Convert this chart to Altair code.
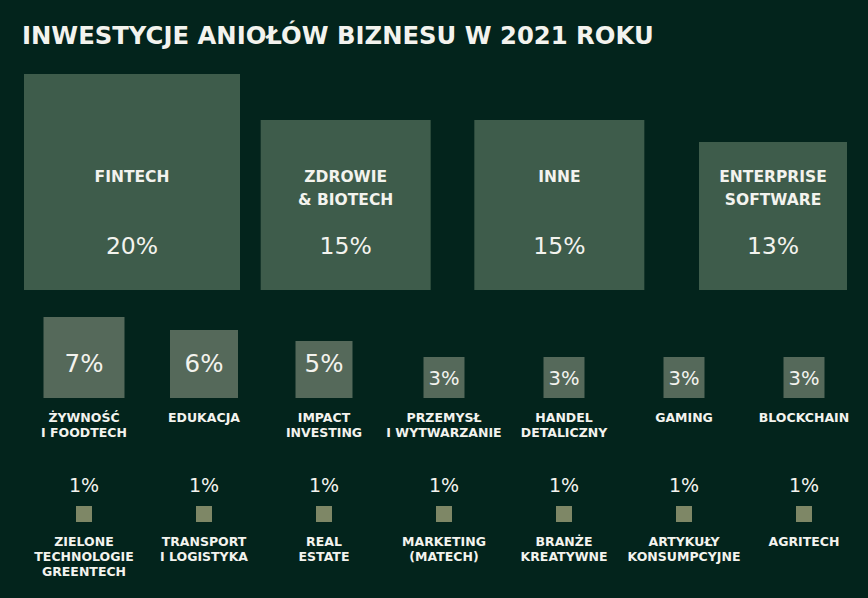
import altair as alt
import pandas as pd

# ---------------- data ----------------
title_text = "INWESTYCJE ANIOŁÓW BIZNESU W 2021 ROKU"

top_labels = [["FINTECH"], ["ZDROWIE", "& BIOTECH"], ["INNE"], ["ENTERPRISE", "SOFTWARE"]]
top_values = [20, 15, 15, 13]

mid_labels = [["ŻYWNOŚĆ", "I FOODTECH"], ["EDUKACJA"], ["IMPACT", "INVESTING"],
              ["PRZEMYSŁ", "I WYTWARZANIE"], ["HANDEL", "DETALICZNY"], ["GAMING"], ["BLOCKCHAIN"]]
mid_values = [7, 6, 5, 3, 3, 3, 3]

low_labels = [["ZIELONE", "TECHNOLOGIE", "GREENTECH"], ["TRANSPORT", "I LOGISTYKA"], ["REAL", "ESTATE"],
              ["MARKETING", "(MATECH)"], ["BRANŻE", "KREATYWNE"], ["ARTYKUŁY", "KONSUMPCYJNE"], ["AGRITECH"]]
low_values = [1, 1, 1, 1, 1, 1, 1]

# ---------------- style ----------------
BG = "#03241c"
ROW_COLORS = ["#3e5c4b", "#55695a", "#7e8766"]
TEXT = "#f3f3ee"
FONT = "DejaVu Sans"
size_domain = [1, 3, 5, 6, 7, 13, 15, 20]
side_px = [16, 41, 57, 68, 81, 148, 170, 216]


def make_rows(labels, values, row):
    return [{"label": l, "value": v, "pct": f"{v}%", "row": row, "col": i}
            for i, (l, v) in enumerate(zip(labels, values))]


top_df = pd.DataFrame(make_rows(top_labels, top_values, 1))
rest_df = pd.DataFrame(make_rows(mid_labels, mid_values, 2) + make_rows(low_labels, low_values, 3))

size_enc = alt.Size("value:Q", legend=None,
                    scale=alt.Scale(domain=size_domain, range=[s * s for s in side_px], zero=False, nice=False))
yoff_enc = alt.YOffset("value:Q",
                       scale=alt.Scale(domain=size_domain, range=[-s / 2 for s in side_px], zero=False, nice=False))
color_enc = alt.Color("row:O", legend=None, scale=alt.Scale(domain=[1, 2, 3], range=ROW_COLORS))

# ---------- top row ----------
xA = alt.X("col:Q", axis=None, scale=alt.Scale(domain=[0, 3], range=[132, 773], zero=False, nice=False))
yA = alt.Y("row:O", axis=None, scale=alt.Scale(type="point", domain=[1], range=[290, 290], padding=0))
baseA = alt.Chart(top_df)

squaresA = baseA.mark_square(filled=True, opacity=1, strokeWidth=0).encode(
    x=xA, y=yA, size=size_enc, yOffset=yoff_enc, color=color_enc)
labelsA = baseA.mark_text(font=FONT, fontSize=15.5, fontWeight="bold", color=TEXT,
                          baseline="alphabetic", dy=-108.5, lineHeight=23).encode(
    x=xA, y=yA, text="label")
pctA = baseA.mark_text(font=FONT, fontSize=23.5, color=TEXT, baseline="alphabetic", dy=-36.5).encode(
    x=xA, y=yA, text="pct:N")
layerA = alt.layer(squaresA, labelsA, pctA)

# ---------- rows 2 and 3 ----------
xB = alt.X("col:Q", axis=None, scale=alt.Scale(domain=[0, 6], range=[84, 804], zero=False, nice=False))
yB = alt.Y("row:O", axis=None, scale=alt.Scale(type="point", domain=[2, 3], range=[398, 522], padding=0))
baseB = alt.Chart(rest_df)

squaresB = baseB.mark_square(filled=True, opacity=1, strokeWidth=0).encode(
    x=xB, y=yB, size=size_enc, yOffset=yoff_enc, color=color_enc)
labelsB = baseB.mark_text(font=FONT, fontSize=12.5, fontWeight="bold", color=TEXT,
                          baseline="alphabetic", dy=23.5, lineHeight=15).encode(
    x=xB, y=yB, text="label")
pctBig = baseB.transform_filter("datum.row == 2 && datum.value >= 5").mark_text(
    font=FONT, fontSize=24.5, color=TEXT, baseline="alphabetic", dy=-26).encode(
    x=xB, y=yB, text="pct:N")
pctSmall = baseB.transform_filter("datum.row == 2 && datum.value < 5").mark_text(
    font=FONT, fontSize=19.5, color=TEXT, baseline="alphabetic", dy=7).encode(
    x=xB, y=yB, yOffset=yoff_enc, text="pct:N")
pctLow = baseB.transform_filter("datum.row == 3").mark_text(
    font=FONT, fontSize=19, color=TEXT, baseline="alphabetic", dy=-30).encode(
    x=xB, y=yB, text="pct:N")
layerB = alt.layer(squaresB, labelsB, pctBig, pctSmall, pctLow)

chart = alt.layer(layerA, layerB).resolve_scale(x="independent", y="independent").properties(
    width=868, height=598, padding=0, autosize="none", background=BG,
    title=alt.TitleParams(text=title_text, anchor="start", frame="group", orient="top",
                          dx=22, offset=-68, baseline="alphabetic", font=FONT, fontSize=24.3,
                          fontWeight="bold", color=TEXT),
).configure_view(stroke=None)

chart.save("out.html", embed_options={"renderer": "svg", "actions": False})
